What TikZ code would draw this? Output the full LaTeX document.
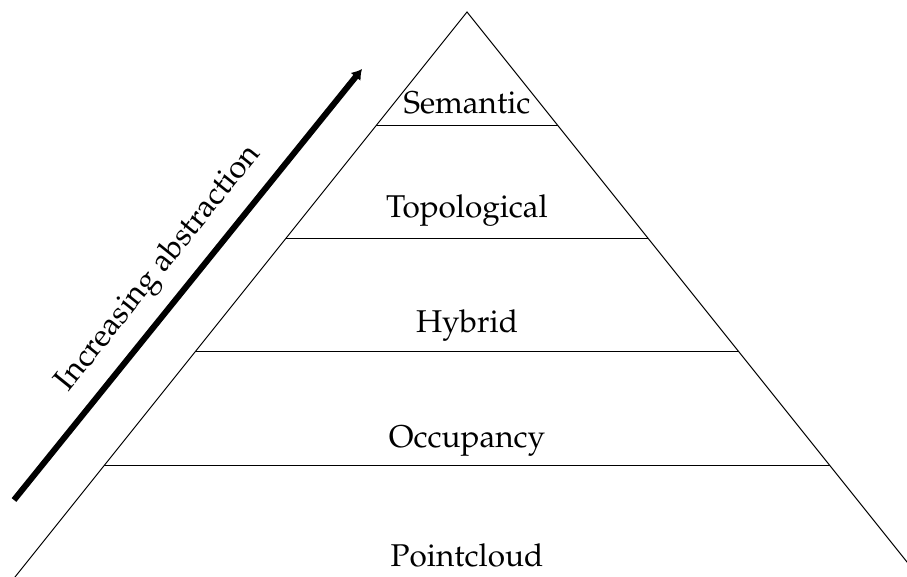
\documentclass[tikz,border=0pt]{standalone}
\usepackage[T1]{fontenc}
\usepackage{mathpazo}
\usetikzlibrary{calc,arrows.meta}

\begin{document}
\begin{tikzpicture}[x=1pt,y=-1pt,
  side/.style={line width=1pt,line join=miter},
  tier/.style={line width=0.9pt},
  lbl/.style={font=\fontsize{31.5}{38}\selectfont, inner sep=0pt, anchor=base},
  trend/.style={line width=6pt, -{Latex[length=10pt,width=13pt]}},
  ]
\useasboundingbox (0,0) rectangle (907,577);
\clip (0,0) rectangle (907,577);

% pyramid outline
\coordinate (apex) at (467,12);
\coordinate (bl) at (13.8,578.5);
\coordinate (br) at (920.2,578.5);
\draw[side] (bl) -- (apex) -- (br) -- cycle;

% tier boundaries, evenly spaced down the sides
\foreach \k in {1,2,3,4} {
  \coordinate (l\k) at ($(apex)!\k/5!(bl)$);
  \coordinate (r\k) at ($(apex)!\k/5!(br)$);
  \draw[tier] (l\k) -- (r\k);
}

% tier names
\node[lbl] (sem) at (467,114) {Semantic};
\node[lbl] (top) at (467,218) {Topological};
\node[lbl] (hyb) at (467,332) {Hybrid};
\node[lbl] (occ) at (467,447) {Occupancy};
\node[lbl] (pcl) at (467,566) {Pointcloud};

% abstraction arrow
\coordinate (a0) at (14,500);
\coordinate (a1) at (362,69);
\draw[trend] (a0) -- (a1);
\node[lbl, rotate=51.1] (abs) at (165,273) {Increasing abstraction};
\end{tikzpicture}
\end{document}
